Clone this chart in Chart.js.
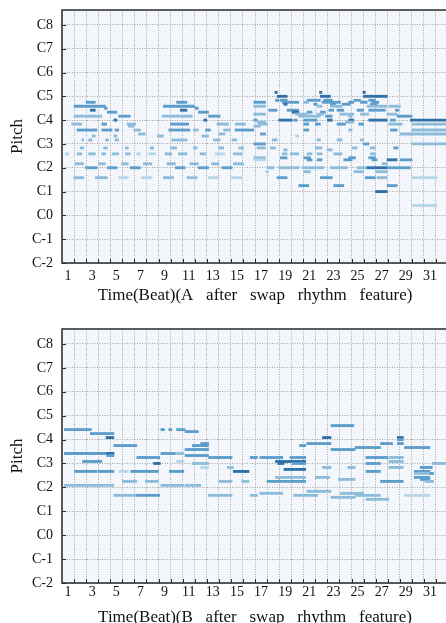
<!DOCTYPE html>
<html><head><meta charset="utf-8">
<script src="https://cdn.jsdelivr.net/npm/chart.js@4/dist/chart.umd.min.js"></script>
<style>
html,body{margin:0;padding:0;background:#fff;overflow:hidden;width:446px;height:623px;}
.wrap{position:absolute;left:0;width:452px;}
</style></head><body>
<div class="wrap" style="top:0;height:310px"><canvas id="c1"></canvas></div>
<div class="wrap" style="top:316px;height:320px"><canvas id="c2"></canvas></div>
<script>
// ---- data ----
const beatLabels = Array.from({length:32},(_,i)=>String(i+1));
const pitchTicks = [0,12,24,36,48,60,72,84,96,108,120];
const pitchLabels = ['C-2','C-1','C0','C1','C2','C3','C4','C5','C6','C7','C8'];
const titleA = 'Time(Beat)(A   after   swap   rhythm   feature)';
const titleB = 'Time(Beat)(B   after   swap   rhythm   feature)';
// notes: [start beat, end beat, pitch (C-2 = 0), velocity level]
const notesA = [
[2.0,2.76,81,3],[9.5,10.36,81,3],
[1.0,3.6,79,3],[8.4,11.0,79,3],
[2.35,2.76,77,4],[9.8,10.36,77,4],
[3.5,3.75,78,3],[3.75,4.55,76,3],[11.05,11.3,78,3],[11.3,12.15,76,3],
[1.0,3.3,74,2],[4.7,5.66,74,3],[8.3,10.8,74,2],[12.15,13.1,74,3],
[4.3,4.55,72,4],[11.75,12.0,72,4],
[0.8,1.65,70,2],[3.3,3.7,70,3],[5.4,6.1,70,2],[9.0,10.5,70,3],[12.85,13.8,70,2],[14.35,15.2,70,2],
[5.5,5.95,69,2],
[1.25,2.9,67,3],[3.3,4.15,67,3],[4.4,4.7,67,3],[5.95,6.5,67,2],[8.85,10.6,67,3],[10.9,11.3,67,2],[11.9,12.3,67,3],[13.4,13.95,67,2],[14.35,15.9,67,3],
[6.35,6.9,65,2],[13.0,13.5,65,2],
[2.5,2.76,64,2],[4.3,4.55,64,2],[7.9,8.4,64,2],[11.6,12.15,64,2],
[1.65,1.8,62,2],[2.2,2.5,62,2],[3.6,3.85,62,2],[4.4,4.7,62,2],[9.1,10.36,62,2],[12.55,13.1,62,2],[14.1,14.5,62,2],
[1.5,1.8,58,2],[3.45,3.75,58,2],[5.25,5.5,58,2],[7.3,7.6,58,2],[9.0,9.5,58,2],[10.9,11.2,58,2],[13.0,13.4,58,2],[14.65,15.05,58,2],
[0.27,0.55,55,1],[1.25,1.65,55,2],[2.2,2.76,55,2],[3.3,3.6,55,2],[4.15,4.7,55,2],[5.25,5.66,55,2],[6.2,6.5,55,1],[7.2,7.75,55,1],[8.55,9.1,55,2],[9.65,10.36,55,2],[11.45,11.9,55,2],[12.7,13.5,55,1],[14.2,14.9,55,2],
[1.1,1.8,50,2],[3.05,3.6,50,2],[4.95,5.5,50,2],[6.75,7.45,50,2],[8.7,9.4,50,2],[10.6,11.3,50,2],[12.4,13.0,50,2],[14.2,15.05,50,2],
[1.95,2.9,48,3],[3.75,4.55,48,3],[5.66,6.5,48,3],[9.4,10.2,48,3],[11.3,12.15,48,3],[13.25,14.1,48,3],
[0.97,1.8,43,2],[2.76,3.75,43,2],[4.7,5.5,43,1],[6.6,7.45,43,1],[8.4,9.25,43,2],[10.36,11.2,43,2],[12.15,13.0,43,1],[13.95,14.9,43,1],
[17.65,17.85,86,4],[21.35,21.55,86,4],[24.95,25.15,86,4],
[17.83,18.66,84,4],[21.42,22.25,84,4],[25.0,26.95,84,4],
[17.7,17.97,82,3],[18.1,18.66,82,3],[20.32,20.73,82,3],[20.73,21.42,82,3],[21.7,22.4,82,3],[24.19,24.74,82,3],[25.43,25.98,82,3],
[15.9,16.87,81,3],[18.25,19.63,81,3],[20.04,20.46,81,2],[21.56,23.08,81,3],[23.77,24.19,81,3],[24.74,25.3,81,3],[25.7,26.26,81,3],
[18.39,18.66,80,4],[20.87,21.15,80,3],[22.25,22.67,80,3],[23.22,23.9,80,3],[25.57,26.12,80,3],
[15.9,16.87,79,2],[21.15,21.56,79,2],[22.25,23.22,79,2],[25.3,26.95,79,2],[27.09,28.05,79,2],
[17.14,17.83,77,3],[18.66,19.63,77,3],[22.12,22.53,77,3],[22.8,23.36,77,3],[24.46,25.0,77,3],[25.43,26.8,77,3],[27.64,27.92,77,3],
[19.08,19.63,76,4],[20.32,20.73,76,3],[21.42,21.84,76,3],
[15.9,16.87,75,2],[19.35,20.32,75,2],[21.15,21.7,75,2],[23.08,24.19,75,2],[24.74,25.43,75,2],[26.95,27.78,75,2],
[19.63,21.42,74,2],[21.84,22.4,74,3],[23.77,24.05,74,2],[27.78,29.02,74,3],
[15.9,16.18,72,3],[17.97,19.08,72,4],[19.2,19.49,72,3],[20.04,21.15,72,3],[22.0,22.4,72,4],[23.77,24.19,72,4],[25.43,26.95,72,4],[27.23,27.64,72,3],[28.88,32,72,4],
[16.18,16.87,71,2],[23.5,24.19,71,2],
[16.31,17.0,70,2],[20.04,20.46,70,3],[21.0,21.42,70,3],[22.8,23.5,70,3],[24.6,25.0,70,3],[27.09,28.2,70,2],[29.02,32,70,2],
[15.9,16.45,69,2],
[20.04,20.46,67,3],[23.77,24.05,67,2],[27.23,27.78,67,3],[29.02,32,67,2],
[16.45,16.87,65,3],[28.05,32,65,2],
[19.35,19.63,64,1],
[17.42,17.83,62,2],[21.15,21.42,62,2],[22.8,23.22,62,2],[24.74,25.0,62,2],
[15.9,16.87,60,3],[25.0,25.43,60,3],[29.0,32,60,2],
[16.18,16.87,58,2],[17.28,17.7,58,2],[21.0,21.56,58,2],[24.05,24.46,58,2],[25.57,25.98,58,2],[27.5,27.85,58,3],
[18.39,18.66,57,2],[21.98,22.4,57,2],
[18.25,18.66,55,2],[18.94,19.63,55,2],[20.32,20.73,55,2],[21.15,21.56,55,2],[22.53,23.22,55,2],[25.57,25.98,55,2],
[15.9,16.87,53,2],[18.1,18.66,53,3],[20.04,20.6,53,3],[23.77,24.33,53,3],[25.43,25.98,53,3],
[15.9,16.87,52,1],[20.32,20.73,52,3],[21.15,21.56,52,3],[23.36,24.05,52,3],[25.7,26.12,52,3],[26.95,27.78,52,4],[28.05,29.02,52,3],
[26.54,26.95,50,2],
[17.0,17.56,48,2],[17.97,19.63,48,2],[19.9,21.7,48,2],[22.25,23.63,48,2],[24.46,25.3,48,2],[25.3,26.95,48,4],[26.95,28.88,48,3],
[16.87,17.14,46,1],[20.04,20.6,46,2],[24.19,25.0,46,2],[26.0,26.95,46,2],
[17.83,18.66,43,3],[21.42,22.4,43,3],[25.15,25.98,43,3],[26.12,26.95,43,2],[29.02,31.09,43,1],
[19.63,20.46,39,3],[22.53,23.36,39,3],[26.95,27.78,39,3],
[26.0,26.95,36,4],
[29.02,31.09,29,1]
];
const notesB = [
[0.2,2.43,77,3],[8.2,8.5,77,3],[8.85,9.1,77,3],[9.5,10.2,77,3],
[10.2,11.3,76,3],
[2.35,4.3,75,3],
[3.65,4.3,73,4],
[11.5,12.15,70,3],
[4.3,6.2,69,3],[10.8,12.15,69,3],
[10.2,12.15,67,3],
[0.2,4.3,65,3],[3.7,4.3,65,4],[8.2,9.4,65,3],[9.5,10.1,65,2],
[3.7,4.3,64,3],[10.2,12.15,64,3],
[6.2,8.1,63,3],[12.15,14.1,63,3],[15.6,16.2,63,3],
[1.7,3.3,61,3],[9.5,10.1,61,1],
[7.6,8.15,60,4],[10.8,12.15,60,2],
[11.5,12.15,58,1],[13.7,14.2,58,2],
[1.05,2.9,56,3],[3.0,4.3,56,3],[4.75,5.5,56,1],[5.7,8.0,56,3],[8.9,10.1,56,3],[14.2,15.5,56,4],
[5.0,6.2,51,2],[6.9,8.0,51,2],[13.0,14.1,51,2],[14.9,15.5,51,2],
[0.2,4.3,49,2],[8.2,10.1,49,2],[10.2,11.5,49,2],
[4.3,6.2,44,2],[6.2,8.1,44,3],[12.15,14.1,44,2],[15.6,16.2,44,2],
[22.3,24.2,79,3],
[21.6,22.3,73,4],[27.8,28.3,73,4],
[27.8,28.3,72,3],
[20.3,22.3,70,3],[26.4,27.4,70,3],[27.8,28.3,70,3],
[19.7,20.2,69,3],
[24.3,26.4,68,3],[28.4,30.5,68,3],
[22.3,24.3,67,3],
[16.4,18.3,63,3],[18.9,20.2,63,3],[25.2,27.0,63,3],[27.1,28.3,63,2],
[17.7,20.2,61,4],[27.1,28.3,61,2],
[17.9,18.4,60,4],[19.1,20.2,60,3],[25.2,26.4,60,3],[30.7,32,60,2],
[21.6,22.3,58,2],[23.7,24.3,58,2],[27.1,28.3,58,2],[29.7,30.7,58,3],
[18.4,20.2,57,4],
[25.2,26.4,56,3],[29.2,30.5,56,3],
[29.2,30.5,55,2],[30.5,30.8,55,3],
[17.7,20.2,53,2],[21.0,22.2,53,2],[29.2,30.5,53,3],
[22.9,24.3,52,2],[29.7,30.5,52,3],
[17.0,20.2,51,3],[26.4,28.3,51,3],[30.1,30.8,51,2],
[20.3,22.3,46,2],
[16.4,18.3,45,2],[23.1,25.0,45,2],
[19.2,21.2,44,2],[24.3,26.4,44,2],[28.4,30.5,44,1],
[22.3,24.3,43,2],
[25.2,27.1,42,2]
];

// ---- style ----
const FONT = "'Liberation Serif','DejaVu Serif',serif";
const velColors = {1:'#b9d5e8', 2:'#8dbcdb', 3:'#5c9dcb', 4:'#2f70a6'};

const framePlugin = {
  id:'frame',
  beforeDraw(chart){
    const {ctx, chartArea:a} = chart;
    ctx.save(); ctx.fillStyle = '#f3f7fb';
    ctx.fillRect(a.left, a.top, a.right-a.left, a.bottom-a.top); ctx.restore();
  },
  afterDraw(chart){
    const {ctx, chartArea:a, scales} = chart;
    ctx.save();
    ctx.strokeStyle = '#2a2a2a'; ctx.lineWidth = 1.5;
    ctx.strokeRect(a.left, a.top, a.right-a.left, a.bottom-a.top);
    ctx.lineWidth = 1; ctx.beginPath();
    for (let i = 1; i < beatLabels.length; i++) {
      const x = Math.round(scales.x.getPixelForValue(i)) + 0.5;
      ctx.moveTo(x, a.bottom); ctx.lineTo(x, a.bottom - 4);
    }
    pitchTicks.forEach(v => {
      const y = Math.round(scales.y.getPixelForValue(v)) + 0.5;
      ctx.moveTo(a.left, y); ctx.lineTo(a.left + 4, y);
    });
    ctx.stroke(); ctx.restore();
  }
};

function makeChart(id, notes, xTitle, cfg) {
  return new Chart(document.getElementById(id), {
    type: 'bar',
    data: { datasets: [{
      data: notes.map(n => ({x: [n[0], n[1]], y: n[2]})),
      backgroundColor: notes.map(n => velColors[n[3]]),
      barThickness: 2.2, borderWidth: 0, borderSkipped: false
    }]},
    options: {
      indexAxis: 'y', responsive: true, maintainAspectRatio: false, animation: false,
      layout: { padding: { top: cfg.padTop, right: 4, left: 0, bottom: 0 } },
      plugins: { legend: {display: false}, tooltip: {enabled: false} },
      scales: {
        x: {
          type: 'linear', min: 0, max: beatLabels.length, position: 'bottom', offset: false,
          afterBuildTicks: s => { s.ticks = beatLabels.map((b, i) => ({value: i + 0.5})); },
          afterFit: s => { s.height = cfg.xHeight; },
          ticks: { autoSkip: false, maxRotation: 0, padding: cfg.xPad, color: '#111',
                   font: {family: FONT, size: 14},
                   callback: (v, i) => (i % 2 === 0 ? beatLabels[i] : '') },
          grid: { offset: true, color: '#a3a3a3', lineWidth: 1, drawTicks: false },
          border: { display: false, dash: [1, 1.5] },
          title: { display: true, text: xTitle, color: '#111',
                   font: {family: FONT, size: 17}, padding: {top: 0, bottom: cfg.titlePad} }
        },
        y: {
          type: 'linear', min: 0, max: 127.5, offset: false,
          afterBuildTicks: s => { s.ticks = pitchTicks.map(v => ({value: v})); },
          afterFit: s => { s.width = 62; s.paddingTop = 0; s.paddingBottom = 0; },
          ticks: { autoSkip: false, padding: 9, color: '#111',
                   font: {family: FONT, size: 14},
                   callback: (v, i) => pitchLabels[i] },
          grid: { offset: false, color: '#a3a3a3', lineWidth: 1, drawTicks: false },
          border: { display: false, dash: [1, 1.5] },
          title: { display: true, text: 'Pitch', color: '#111',
                   font: {family: FONT, size: 17}, padding: {top: 7, bottom: 0} }
        }
      }
    },
    plugins: [framePlugin]
  });
}

makeChart('c1', notesA, titleA, {padTop: 10, xHeight: 47, xPad: 5, titlePad: 4});
makeChart('c2', notesB, titleB, {padTop: 13, xHeight: 53, xPad: 1, titlePad: 8});
</script>
</body></html>
